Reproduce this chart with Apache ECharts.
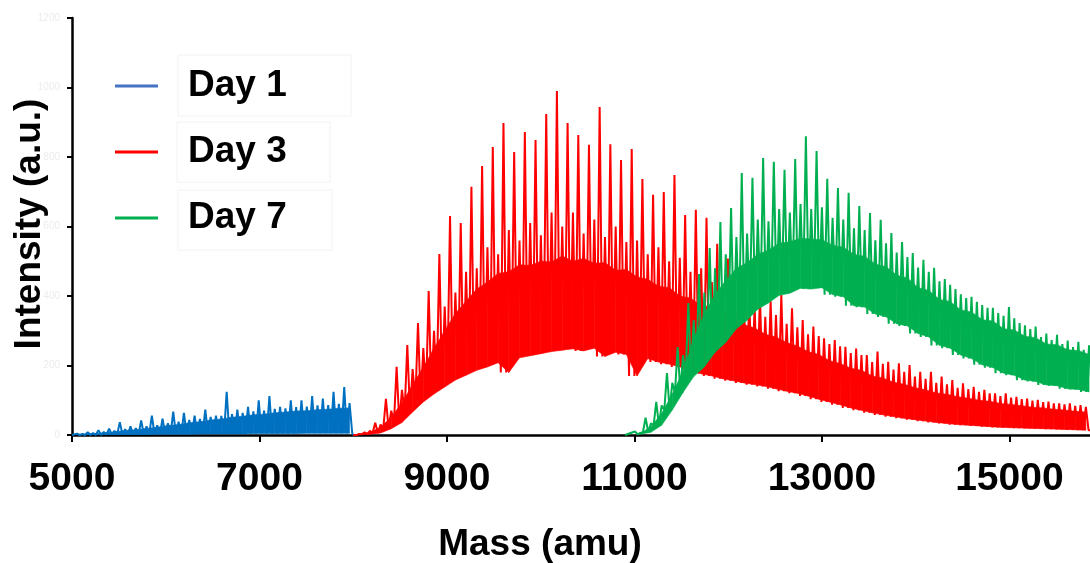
<!DOCTYPE html>
<html>
<head>
<meta charset="utf-8">
<script src="https://cdn.jsdelivr.net/npm/echarts@6/dist/echarts.min.js"></script>
<style>
  html, body { margin: 0; padding: 0; background: #ffffff; }
  #chart { width: 1090px; height: 563px; }
</style>
</head>
<body>
<div id="chart"></div>
<script>
// Mass spectra of the polymer on three days. Each spectrum is a train of
// peaks spaced by one repeat unit. Per repeat unit we keep: the main peak
// height, the trough after it, the secondary peak half way to the next main
// peak, and the top of the unresolved bulk signal underneath.
const REPEAT_UNIT = 114;                 // amu between main peaks
const massRange = [5000, 15860];         // x extent (amu)
const massTicks = [5000, 7000, 9000, 11000, 13000, 15000];
const intensityRange = [0, 1200];
const intensityStep = 200;

// Day 1
const day1Span = [5000, 8000];
const day1FirstPeak = 5054;
const day1Peaks = [4, 8, 14, 18, 37, 25, 42, 56, 47, 67, 64, 56, 73, 56, 124, 73, 81, 100, 112, 81, 100, 100, 112, 105, 124, 138];
const day1Troughs = [0, 0, 0, 1, 1, 1, 1, 2, 2, 2, 2, 3, 3, 3, 3, 3, 4, 4, 4, 4, 4, 5, 5, 5, 5, 5];
const day1Secondary = [3, 6, 9, 12, 17, 20, 25, 28, 34, 38, 43, 46, 52, 55, 60, 64, 68, 70, 75, 77, 80, 82, 85, 86, 90, 92];
const day1Bulk = [2, 4, 6, 9, 13, 15, 19, 22, 27, 30, 35, 38, 43, 46, 51, 54, 58, 60, 64, 66, 69, 70, 73, 74, 77, 78];

// Day 3
const day3Span = [8000, 15860];
const day3FirstPeak = 8007;
const day3Peaks = [
  2, 8, 35, 104, 196, 259, 322, 414, 521, 630, 610, 714, 774, 829, 898, 814, 872, 849, 924,
  990, 898, 863, 835, 944, 837, 791, 823, 737, 691, 699, 748, 633, 648, 625, 550, 508,
  430, 389, 398, 385, 403, 365, 331, 312, 278, 273, 254, 249, 230, 240, 211, 206, 201, 182, 182,
  168, 158, 149, 139, 130, 120, 120, 110, 105, 101, 96, 91, 91, 86
];
const day3Troughs = [
  0, 2, 6, 18, 36, 66, 95, 118, 138, 158, 172, 186, 196, 208, 180, 222, 228, 234, 240,
  244, 248, 242, 250, 226, 238, 232, 170, 220, 210, 204, 196, 188, 176, 170, 162, 156,
  150, 145, 140, 133, 126, 120, 112, 103, 95, 87, 78, 71, 64, 58, 53, 48, 44, 40, 36,
  33, 30, 28, 26, 24, 22, 21, 20, 19, 18, 17, 16, 15, 14
];
const day3Secondary = [
  3, 12, 30, 70, 130, 190, 250, 300, 370, 410, 470, 480, 540, 520, 590, 560, 610, 575, 640,
  600, 640, 580, 620, 570, 600, 555, 560, 520, 540, 500, 510, 470, 480, 440, 430, 410,
  380, 370, 340, 345, 320, 310, 290, 285, 262, 255, 236, 230, 210, 205, 188, 182, 168, 162, 150,
  146, 136, 132, 124, 120, 112, 108, 103, 99, 95, 91, 88, 84, 81
];
const day3Bulk = [
  2, 8, 22, 52, 92, 145, 195, 250, 300, 350, 385, 420, 440, 465, 470, 490, 488, 500, 498,
  515, 500, 508, 494, 496, 474, 476, 455, 448, 428, 424, 400, 394, 372, 370, 346, 340,
  318, 308, 290, 282, 266, 256, 240, 232, 214, 206, 192, 186, 170, 164, 152, 146, 136, 130, 121,
  117, 110, 106, 100, 97, 91, 88, 84, 80, 78, 74, 72, 68, 66
];

// Day 7
const day7Span = [10900, 15860];
const day7FirstPeak = 11005;
const day7Peaks = [
  10, 50, 95, 178, 253, 380, 463, 538, 613, 653, 754, 740, 797, 786, 763, 794, 860, 817, 737, 711,
  697, 659, 639, 619, 581, 555, 524, 504, 481, 449, 420, 394, 383, 366, 351, 368, 322, 305, 282, 273,
  262, 253, 245
];
const day7Troughs = [
  2, 8, 28, 72, 122, 168, 196, 238, 266, 306, 330, 362, 380, 402, 408, 422, 420, 424, 404, 398,
  372, 368, 348, 340, 320, 314, 292, 282, 258, 250, 230, 220, 202, 194, 178, 172, 158, 154, 144, 142,
  133, 131, 124
];
const day7Secondary = [
  6, 34, 85, 150, 230, 330, 410, 480, 520, 570, 580, 620, 615, 650, 640, 665, 650, 655, 625, 620,
  595, 590, 560, 552, 525, 512, 482, 470, 442, 432, 405, 398, 374, 366, 343, 336, 316, 312, 292, 288,
  272, 268, 258
];
const day7Bulk = [
  4, 24, 62, 118, 184, 276, 348, 406, 444, 480, 496, 520, 532, 552, 556, 566, 564, 562, 546, 540,
  520, 514, 492, 484, 460, 452, 424, 416, 390, 384, 360, 354, 332, 328, 306, 302, 284, 280, 262, 260,
  245, 243, 232
];

const seriesNames = ['Day 1', 'Day 3', 'Day 7'];
const seriesColors = ['#0070C0', '#FF0000', '#00B050'];
const legendColors = ['#4472C4', '#FF0000', '#00B050'];

const spectra = [
  { span: day1Span, first: day1FirstPeak, peaks: day1Peaks, troughs: day1Troughs, secondary: day1Secondary, bulk: day1Bulk },
  { span: day3Span, first: day3FirstPeak, peaks: day3Peaks, troughs: day3Troughs, secondary: day3Secondary, bulk: day3Bulk },
  { span: day7Span, first: day7FirstPeak, peaks: day7Peaks, troughs: day7Troughs, secondary: day7Secondary, bulk: day7Bulk }
];

// Per-repeat readings as a [mass, intensity] trace:
// main peak, trough, secondary peak, trough, then the next main peak.
function buildTrace(s, closeToZero) {
  const pts = [[s.span[0], 0]];
  for (let k = 0; k < s.peaks.length; k++) {
    const m = s.first + k * REPEAT_UNIT;
    const nextTrough = k + 1 < s.troughs.length ? s.troughs[k + 1] : s.troughs[k];
    pts.push([m, s.peaks[k]]);
    pts.push([m + REPEAT_UNIT / 4, s.troughs[k]]);
    pts.push([m + REPEAT_UNIT / 2, s.secondary[k]]);
    pts.push([m + 3 * REPEAT_UNIT / 4, nextTrough]);
  }
  const last = pts[pts.length - 1];
  if (last[0] < s.span[1]) pts.push([s.span[1], closeToZero ? 0 : last[1]]);
  return pts;
}

// The unresolved bulk between troughs and its top: one quad per repeat
// unit, [mass, trough, bulk, nextMass, nextTrough, nextBulk].
function buildBand(s) {
  const quads = [];
  for (let k = 0; k + 1 < s.peaks.length; k++) {
    const m = s.first + k * REPEAT_UNIT + REPEAT_UNIT / 2;
    quads.push([m, s.troughs[k], s.bulk[k], m + REPEAT_UNIT, s.troughs[k + 1], s.bulk[k + 1]]);
  }
  return quads;
}

const FONT = "'Liberation Sans', Arial, Helvetica, sans-serif";

const series = [];
spectra.forEach((s, i) => {
  const color = seriesColors[i];
  series.push({
    name: seriesNames[i],
    type: 'custom',
    data: buildBand(s),
    encode: { x: [0, 3], y: [1, 2, 4, 5] },
    clip: true,
    silent: true,
    z: 2 + i * 2,
    renderItem: (params, api) => {
      const a = api.coord([api.value(0), api.value(1)]);
      const b = api.coord([api.value(0), api.value(2)]);
      const c = api.coord([api.value(3), api.value(5)]);
      const d = api.coord([api.value(3), api.value(4)]);
      return {
        type: 'polygon',
        shape: { points: [a, b, c, d] },
        style: { fill: color, stroke: color, lineWidth: 0.6 }
      };
    }
  });
  series.push({
    name: seriesNames[i], type: 'line', data: buildTrace(s, i === 0),
    showSymbol: false, symbol: 'none', sampling: null, clip: true,
    color: color,
    lineStyle: { color: color, width: 2 },
    emphasis: { disabled: true }, z: 3 + i * 2
  });
});

const chart = echarts.init(document.getElementById('chart'), null, { renderer: 'canvas' });

chart.setOption({
  animation: false,
  backgroundColor: '#ffffff',
  grid: { left: 72, right: 0, top: 18, bottom: 128, containLabel: false },
  legend: {
    orient: 'vertical',
    left: 115,
    top: 66,
    padding: 0,
    itemGap: 26,
    itemWidth: 43,
    itemHeight: 3,
    icon: 'rect',
    textStyle: { fontFamily: FONT, fontWeight: 'bold', fontSize: 37, color: '#000', lineHeight: 40, padding: [0, 0, 0, 25] },
    data: seriesNames.map((n, i) => ({ name: n, icon: 'rect', itemStyle: { color: legendColors[i] } }))
  },
  xAxis: {
    type: 'value',
    min: massRange[0],
    max: massRange[1],
    interval: 2000,
    splitLine: { show: false },
    axisLine: { show: true, onZero: false, lineStyle: { color: '#000', width: 2.5 } },
    axisTick: { show: true, inside: false, length: 7, customValues: massTicks, lineStyle: { color: '#000', width: 2 } },
    axisLabel: {
      customValues: massTicks,
      formatter: v => String(v),
      margin: 25,
      fontFamily: FONT, fontWeight: 'bold', fontSize: 39, color: '#000'
    }
  },
  yAxis: {
    type: 'value',
    min: intensityRange[0],
    max: intensityRange[1],
    interval: intensityStep,
    splitLine: { show: false },
    axisLine: { show: true, onZero: false, lineStyle: { color: '#000', width: 2.5 } },
    axisTick: { show: true, length: 5, lineStyle: { color: '#000', width: 2 } },
    axisLabel: { formatter: v => String(v), margin: 12, fontFamily: FONT, fontSize: 10, color: '#ececec' }
  },
  graphic: [
    // faint frames around the legend entries
    { type: 'rect', shape: { x: 178, y: 55, width: 173, height: 61 }, style: { fill: null, stroke: '#f2f2f2', lineWidth: 1 }, silent: true },
    { type: 'rect', shape: { x: 177, y: 122, width: 153, height: 60 }, style: { fill: null, stroke: '#f2f2f2', lineWidth: 1 }, silent: true },
    { type: 'rect', shape: { x: 178, y: 190, width: 154, height: 60 }, style: { fill: null, stroke: '#f2f2f2', lineWidth: 1 }, silent: true },
    {
      type: 'text', x: 540, y: 526,
      style: { text: 'Mass (amu)', font: "bold 37px " + FONT, fill: '#000', textAlign: 'center', textVerticalAlign: 'top' },
      silent: true
    },
    {
      type: 'text', x: 30, y: 224, rotation: Math.PI / 2,
      style: { text: 'Intensity (a.u.)', font: "bold 37px " + FONT, fill: '#000', textAlign: 'center', textVerticalAlign: 'middle' },
      silent: true
    }
  ],
  series: series
});
</script>
</body>
</html>
